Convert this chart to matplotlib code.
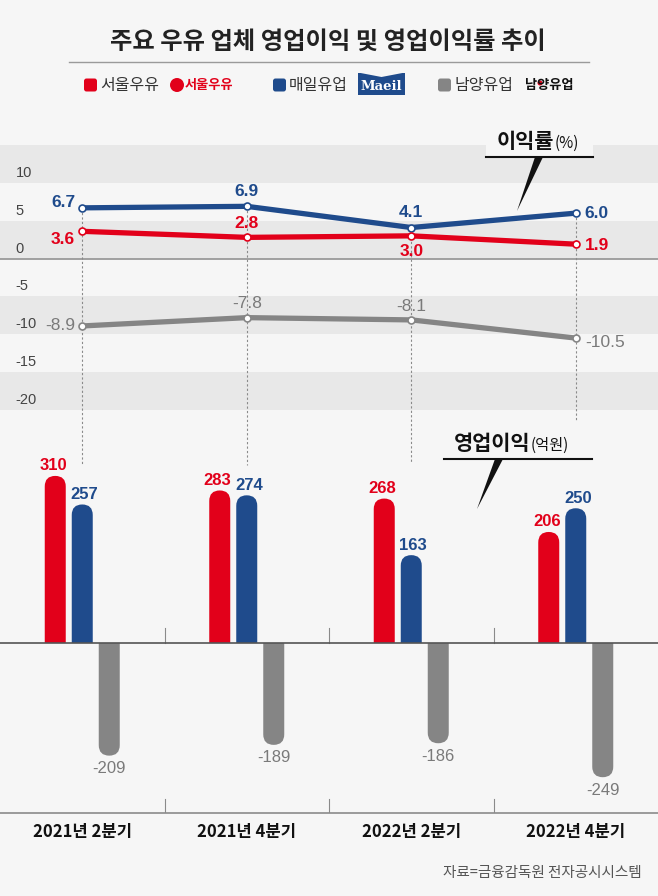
import numpy as np
import matplotlib.pyplot as plt
from matplotlib.patches import Rectangle, FancyBboxPatch, Polygon, Circle
from matplotlib.lines import Line2D
from matplotlib.transforms import offset_copy

quarters = ['2021년 2분기', '2021년 4분기', '2022년 2분기', '2022년 4분기']
companies = ['서울우유', '매일유업', '남양유업']

# 영업이익률 (%)
margin_seoul = [3.6, 2.8, 3.0, 1.9]
margin_maeil = [6.7, 6.9, 4.1, 6.0]
margin_namyang = [-8.9, -7.8, -8.1, -10.5]
margin_ticks = [10, 5, 0, -5, -10, -15, -20]

# 영업이익 (억원)
profit_seoul = [310, 283, 268, 206]
profit_maeil = [257, 274, 163, 250]
profit_namyang = [-209, -189, -186, -249]

RED = '#e2001a'
BLUE = '#1f4b8c'
GRAY = '#858585'
BG = '#f6f6f6'
BAND = '#e8e8e8'

KR = 'Noto Sans CJK KR'
NUM = 'Liberation Sans'

W, H = 658, 896
fig = plt.figure(figsize=(W / 100, H / 100), dpi=100, facecolor=BG)
INCH = fig.dpi_scale_trans


def px(x, y):
    # pixel position from top-left -> inches
    return x / 100, (H - y) / 100


def T(x, y, s, **kw):
    return fig.text(*px(x, y), s, transform=INCH, **kw)


def ax_rect(top, bottom):
    return [0, 1 - bottom / H, 1, (bottom - top) / H]


# ---- title & legend ----
T(328, 42, '주요 우유 업체 영업이익 및 영업이익률 추이', ha='center', va='center',
  fontsize=17.5, fontweight='bold', family=KR, color='#222')
fig.add_artist(Line2D([0.69, 5.89], [(H - 62) / 100] * 2, transform=INCH, color='#9a9a9a', lw=1))

legend_x = [84, 273, 438]
for c, col, lx in zip(companies, [RED, BLUE, GRAY], legend_x):
    fig.add_artist(FancyBboxPatch(px(lx, 91.5), 0.13, 0.13, boxstyle='round,pad=0,rounding_size=0.025',
                                  transform=INCH, color=col, lw=0))
    T(lx + 16, 85, c, ha='left', va='center', fontsize=11.5, family=KR, color='#333')

# 서울우유 logo
fig.add_artist(Circle(px(177, 85), 0.07, transform=INCH, color=RED, lw=0))
T(185, 85, '서울우유', ha='left', va='center', fontsize=9.5, fontweight='bold', family=KR, color=RED)
# Maeil logo
fig.add_artist(Rectangle(px(358, 95), 0.47, 0.22, transform=INCH, color=BLUE, lw=0))
fig.add_artist(Polygon([px(358, 72.5), px(381.5, 77), px(405, 72.5)], closed=True, transform=INCH,
                       color=BG, lw=0))
T(381.5, 86, 'Maeil', ha='center', va='center', fontsize=9.5, fontweight='bold',
  family='DejaVu Serif', color='white')
# 남양유업 logo
T(549, 85, '남양유업', ha='center', va='center', fontsize=9.5, fontweight='bold', family=KR, color='#111')
fig.add_artist(Circle(px(540, 83), 0.025, transform=INCH, color=RED, lw=0))

# ---- margin line chart ----
ax1 = fig.add_axes(ax_rect(145, 410))
ax1.set_xlim(-0.5, 3.5)
ax1.set_ylim(-20, 15)
ax1.axis('off')
for lo in [10, 0, -10, -20]:
    ax1.axhspan(lo, lo + 5, color=BAND, lw=0, zorder=0)
ax1.axhline(0, color='#9a9a9a', lw=1.3, zorder=1)

tick_tr = offset_copy(ax1.get_yaxis_transform(), fig=fig, x=0, y=10, units='dots')
for t in margin_ticks:
    ax1.text(0.024, t, str(t), transform=tick_tr, ha='left', va='center',
             fontsize=10.5, family=NUM, color='#444')

x = np.arange(len(quarters))
dash_end = [-27.3, -27.3, -27.0, -21.4]
for i in x:
    top = max(margin_seoul[i], margin_maeil[i])
    ax1.plot([i, i], [top, dash_end[i]], ls=(0, (2, 2)), color='#8a8a8a', lw=0.8,
             clip_on=False, zorder=1)

series = [
    (margin_maeil, BLUE, 'bold', [(-7, 5, 'right'), (0, 15, 'center'), (0, 15, 'center'), (9, 0, 'left')]),
    (margin_seoul, RED, 'bold', [(-7, -8, 'right'), (0, 14, 'center'), (0, -16, 'center'), (9, -1, 'left')]),
    (margin_namyang, '#7a7a7a', 'normal', [(-7, 0, 'right'), (0, 14, 'center'), (0, 13, 'center'), (9, -4, 'left')]),
]
line_cols = [BLUE, RED, GRAY]
for (vals, tcol, fw, offs), lc in zip(series, line_cols):
    ax1.plot(x, vals, color=lc, lw=3.8, solid_capstyle='round', solid_joinstyle='round', zorder=3)
    ax1.plot(x, vals, ls='none', marker='o', ms=5, mfc='white', mec=lc, mew=1.2, zorder=4)
    for i, v in enumerate(vals):
        dx, dy, ha = offs[i]
        ax1.annotate(f'{v:.1f}', (i, v), xytext=(dx, dy), textcoords='offset pixels',
                     ha=ha, va='center', fontsize=12.5, fontweight=fw, family=NUM,
                     color=tcol, annotation_clip=False, zorder=5)

# 이익률(%) callout
fig.add_artist(Rectangle(px(486, 157), 1.07, 0.34, transform=INCH, color=BG, lw=0, zorder=6))
T(554, 141, '이익률', ha='right', va='center', fontsize=15, fontweight='bold', family=KR,
  color='#111', zorder=7)
T(555, 143, '(%)', ha='left', va='center', fontsize=11, family=KR, color='#111', zorder=7)
fig.add_artist(Line2D([4.86, 5.93], [(H - 157) / 100] * 2, transform=INCH, color='#111', lw=1.5, zorder=7))
fig.add_artist(Polygon([px(535, 157), px(543, 157), px(517, 211)], closed=True, transform=INCH,
                       color='#111', lw=0, zorder=7))

# ---- operating profit bar chart ----
YLO, YHI = -315.4, 423
ax2 = fig.add_axes(ax_rect(415, 813))
ax2.set_xlim(-0.5, 3.5)
ax2.set_ylim(YLO, YHI)
ax2.axis('off')

ax_h_px = ax2.get_position().height * H
px_per_unit = ax_h_px / (YHI - YLO)
unit_per_x_px = 4 / W
bw_px = 21
bw = bw_px * unit_per_x_px
ry = (bw_px / 2) / px_per_unit
offsets = np.array([-27, 0, 27]) * unit_per_x_px

bar_series = [(profit_seoul, RED, RED, 'bold', -2), (profit_maeil, BLUE, BLUE, 'bold', 2),
              (profit_namyang, GRAY, '#7a7a7a', 'normal', 0)]
for (vals, col, tcol, fw, ldx), off in zip(bar_series, offsets):
    for i, v in enumerate(vals):
        xi = i + off
        # rounded bar: box extends past the baseline by one radius, then clipped at the baseline
        y0, h = (-ry, v + ry) if v > 0 else (v, -v + ry)
        bar = FancyBboxPatch((xi - bw / 2, y0), bw, h,
                             boxstyle=f'round,pad=0,rounding_size={bw / 2}',
                             mutation_aspect=ry / (bw / 2), color=col, lw=0, zorder=2)
        ax2.add_patch(bar)
        clip = Rectangle((xi - bw, 0 if v > 0 else YLO), 2 * bw, YHI if v > 0 else -YLO,
                         transform=ax2.transData)
        bar.set_clip_path(clip)
        dy = 10 if v > 0 else -13
        ax2.annotate(f'{v}', (xi, v), xytext=(ldx, dy), textcoords='offset pixels',
                     ha='center', va='center', fontsize=12, fontweight=fw, family=NUM,
                     color=tcol, zorder=5)

ax2.axhline(0, color='#555', lw=1.2, zorder=4)
ax2.axhline(YLO, color='#8a8a8a', lw=1.2, zorder=4, clip_on=False)
for b in [0.5, 1.5, 2.5]:
    ax2.plot([b, b], [0, 27.8], color='#8a8a8a', lw=0.8, zorder=3)
    ax2.plot([b, b], [YLO, YLO + 26], color='#8a8a8a', lw=0.8, zorder=3)

for i, q in enumerate(quarters):
    ax2.annotate(q, (i, 0), xycoords=('data', 'axes fraction'), xytext=(0, -19),
                 textcoords='offset pixels', ha='center', va='center', fontsize=12,
                 fontweight='bold', family=KR, color='#111', annotation_clip=False)

# 영업이익(억원) callout
T(530, 443, '영업이익', ha='right', va='center', fontsize=15, fontweight='bold', family=KR, color='#111')
T(531, 445, '(억원)', ha='left', va='center', fontsize=11, family=KR, color='#111')
fig.add_artist(Line2D([4.44, 5.92], [(H - 459) / 100] * 2, transform=INCH, color='#111', lw=1.5))
fig.add_artist(Polygon([px(495, 459), px(503, 459), px(477, 509)], closed=True, transform=INCH,
                       color='#111', lw=0))

T(642, 873, '자료=금융감독원 전자공시시스템', ha='right', va='center', fontsize=10.5, family=KR, color='#555')

fig.savefig('out.png', dpi=100, facecolor=BG)
